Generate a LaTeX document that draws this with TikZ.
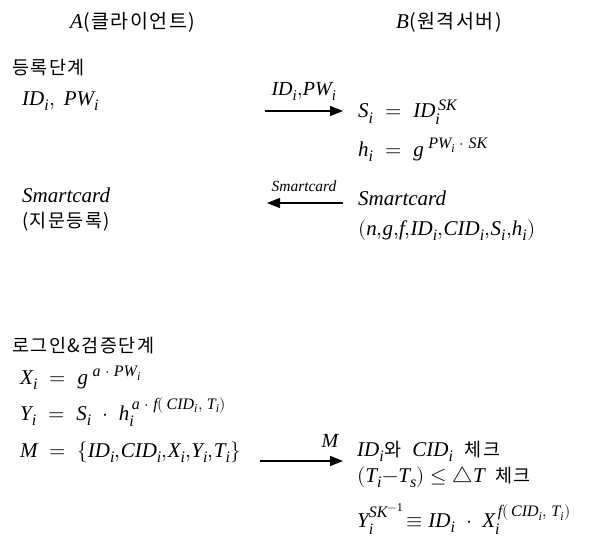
\documentclass[tikz,border=0pt]{standalone}
\usepackage{amsmath}
\usepackage{fontspec}
\usepackage{unicode-math}
\setmainfont{Liberation Serif}
\setmathfont{Latin Modern Math}
\setmathfont[range=it/{latin,Latin}]{Liberation Serif Italic}
\setmathfont[range=up/{latin,Latin,num}]{Liberation Serif}
\DeclareMathSizes{21}{21}{16}{12}
\DeclareMathSizes{20}{20}{15}{11}
\newfontfamily\kr[LetterSpace=8]{Noto Sans CJK KR}
\usetikzlibrary{arrows.meta}
\tikzset{
  txt/.style={anchor=west,inner sep=0pt,font=\fontsize{21}{23}\selectfont},
  krtxt/.style={anchor=west,inner sep=0pt,font=\fontsize{18.5}{20}\selectfont\kr},
  lbl/.style={anchor=center,inner sep=0pt,font=\fontsize{20}{22}\selectfont},
  msg/.style={line width=1.2pt,-{Triangle[length=13pt,width=10pt]}}
}
\newcommand{\krs}[1]{{\kr\fontsize{18.5}{20}\selectfont #1}}
\newcommand{\krh}[1]{{\kr\fontsize{19.5}{21}\selectfont #1}}
\begin{document}
\begin{tikzpicture}[x=1pt,y=-1pt]
\useasboundingbox (0,0) rectangle (596,549);
% headers
\node[txt] (A) at (70,22) {$A$\krh{(클라이언트)}};
\node[txt] (B) at (396,22) {$B$\krh{(원격서버)}};
% registration
\node[krtxt] (reg) at (12,68) {등록단계};
\node[txt] (idpw) at (22,101) {$ID_i,\ PW_i$};
\coordinate (a1s) at (265,111);
\coordinate (a1e) at (343,111);
\draw[msg] (a1s) -- (a1e);
\node[lbl] (a1l) at (304,91) {$ID_i{,}PW_i$};
\node[txt] (si) at (358,112) {$S_i \;=\; ID_i^{\,SK}$};
\node[txt] (hi) at (358,150) {$h_i \;=\; g^{\;PW_i\;\cdot\;SK}$};
\coordinate (a2s) at (343,203);
\coordinate (a2e) at (267,203);
\draw[msg] (a2s) -- (a2e);
\node[lbl] (a2l) at (304,186) {\fontsize{15.5}{17}\selectfont\itshape Smartcard};
\node[txt] (scB) at (358,198) {\itshape Smartcard};
\node[txt] (scBp) at (358,230) {$(n{,}g{,}f{,}ID_i{,}CID_i{,}S_i{,}h_i)$};
\node[txt] (scA) at (22,195) {\itshape Smartcard};
\node[krtxt] (scAp) at (22,222) {(지문등록)};
% login
\node[krtxt] (login) at (12,346) {로그인\&검증단계};
\node[txt] (xi) at (20,378) {$X_i \;=\; g^{\;a\;\cdot\;PW_i}$};
\node[txt] (yi) at (20,412) {$Y_i \;=\; S_i\;\cdot\;h_i^{\,a\;\cdot\;f(\,CID_i,\;T_i)}$};
\node[txt] (m) at (20,452) {$M \;=\; \{ID_i{,}CID_i{,}X_i{,}Y_i{,}T_i\}$};
\coordinate (a3s) at (260,461);
\coordinate (a3e) at (343,461);
\draw[msg] (a3s) -- (a3e);
\node[lbl] (a3l) at (330,441) {$M$};
\node[txt] (c1) at (357,451) {$ID_i$\krs{와}\; $CID_i$\; \krs{체크}};
\node[txt] (c2) at (357,477) {$(T_i{-}T_s)\leq\triangle T$\ \ \krs{체크}};
\node[txt] (c3) at (357,519) {$Y_i^{\raisebox{2.5pt}{$\scriptstyle SK^{-1}$}}\!\equiv ID_i\;\cdot\;X_i^{\,f(\,CID_i,\;T_i)}$};
\end{tikzpicture}
\end{document}
